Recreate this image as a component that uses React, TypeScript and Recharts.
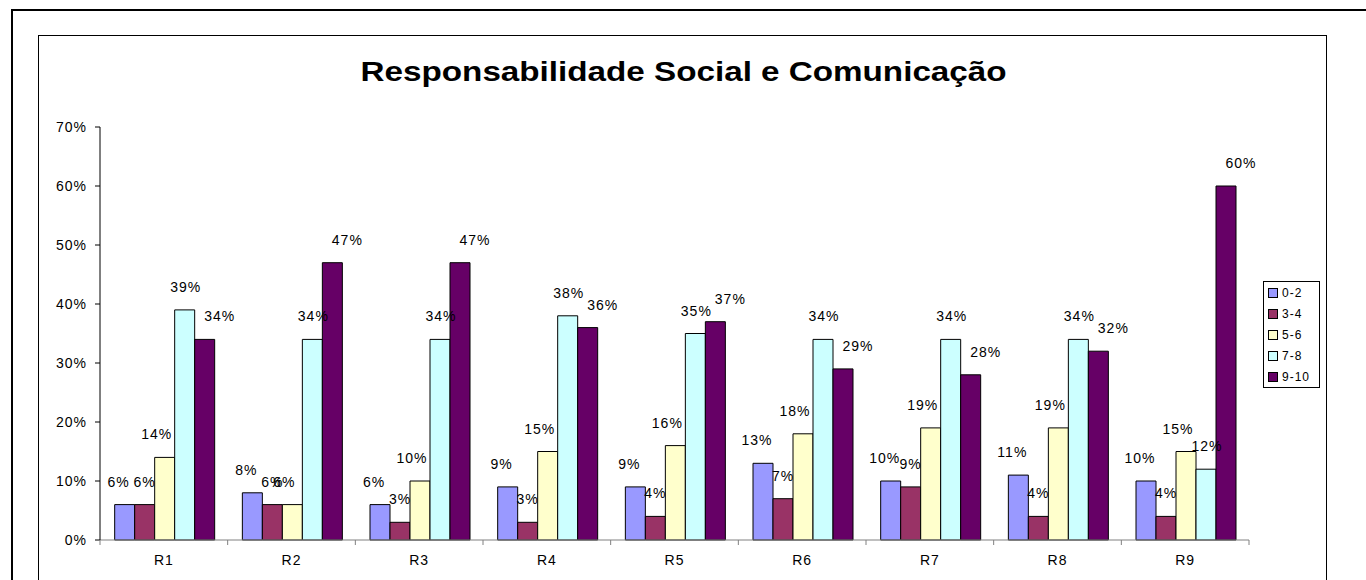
import { BarChart, Bar, XAxis, YAxis, LabelList } from "recharts"

const categories = ["R1", "R2", "R3", "R4", "R5", "R6", "R7", "R8", "R9"]
const seriesNames = ["0-2", "3-4", "5-6", "7-8", "9-10"]
const s02 = [6, 8, 6, 9, 9, 13, 10, 11, 10]
const s34 = [6, 6, 3, 3, 4, 7, 9, 4, 4]
const s56 = [14, 6, 10, 15, 16, 18, 19, 19, 15]
const s78 = [39, 34, 34, 38, 35, 34, 34, 34, 12]
const s910 = [34, 47, 47, 36, 37, 29, 28, 32, 60]
const yTicks = [0, 10, 20, 30, 40, 50, 60, 70]

const seriesValues = [s02, s34, s56, s78, s910]
const colors = ["#9999FF", "#993366", "#FFFFCC", "#CCFFFF", "#660066"]
// excel-ish scatter of the data labels, per series
const labelShift = [-6, 0, -8, 1, 15]

const chartData = categories.map((cat, i) => {
  const row: Record<string, string | number> = { category: cat }
  seriesNames.forEach((name, s) => {
    row[name] = seriesValues[s][i]
  })
  return row
})

const FONT = "'Liberation Sans', Arial, sans-serif"
const W = 1366
const H = 580
const PLOT_LEFT = 100
const PLOT_RIGHT = 1249
const bandWidth = (PLOT_RIGHT - PLOT_LEFT) / categories.length

function makeLabel(s: number) {
  return (props: any) => {
    const { x, y, width, value } = props
    return (
      <text
        x={x + width / 2 + labelShift[s]}
        y={y - 23}
        textAnchor="middle"
        dominantBaseline="central"
        fontSize={14}
        letterSpacing={1}
        fontFamily={FONT}
        fill="#000"
      >
        {value}%
      </text>
    )
  }
}

function CategoryTick(props: any) {
  const { x, y, payload, index } = props
  const left = x - bandWidth / 2
  return (
    <g>
      <line x1={left} y1={y} x2={left} y2={y + 5} stroke="#808080" />
      {index === categories.length - 1 && (
        <line x1={x + bandWidth / 2} y1={y} x2={x + bandWidth / 2} y2={y + 5} stroke="#808080" />
      )}
      <text
        x={x}
        y={y + 20}
        textAnchor="middle"
        dominantBaseline="central"
        fontSize={14}
        letterSpacing={1}
        fontFamily={FONT}
        fill="#000"
      >
        {payload.value}
      </text>
    </g>
  )
}

function LegendBox() {
  return (
    <div
      style={{
        position: "absolute",
        left: 1263,
        top: 281,
        border: "1px solid #000",
        background: "#fff",
        width: 57,
        padding: "0 0 0 4px",
        fontFamily: FONT,
        fontSize: 12,
        letterSpacing: 1,
        boxSizing: "border-box",
      }}
    >
      {seriesNames.map((name, i) => (
        <div key={name} style={{ display: "flex", alignItems: "center", height: 21 }}>
          <span
            style={{
              display: "inline-block",
              width: 8,
              height: 8,
              background: colors[i],
              border: "1px solid #000",
              marginRight: 4,
            }}
          />
          {name}
        </div>
      ))}
    </div>
  )
}

export default function App() {
  return (
    <div style={{ position: "absolute", left: 0, top: 0, width: W, height: H, overflow: "hidden", background: "#fff" }}>
      <div
        style={{
          position: "absolute",
          left: 11,
          top: 9,
          width: W,
          height: H,
          borderLeft: "2px solid #000",
          borderTop: "2px solid #000",
        }}
      />
      <div
        style={{
          position: "absolute",
          left: 38,
          top: 35,
          width: 1325 - 38,
          height: H,
          border: "1px solid #000",
          borderBottom: "none",
        }}
      />
      <div
        style={{
          position: "absolute",
          left: 0,
          width: 1366,
          top: 54,
          textAlign: "center",
          fontFamily: FONT,
          fontWeight: "bold",
          fontSize: 27,
          lineHeight: "36px",
          color: "#000",
        }}
      >
        <span style={{ display: "inline-block", transform: "scaleX(1.23)", marginLeft: 1 }}>
          Responsabilidade Social e Comunicação
        </span>
      </div>
      <div style={{ position: "absolute", left: 0, top: 0 }}>
        <BarChart
          width={W}
          height={H}
          data={chartData}
          margin={{ top: 127, right: W - PLOT_RIGHT, bottom: 10, left: PLOT_LEFT - 60 }}
          barCategoryGap="11.5%"
          barGap={0}
        >
          <XAxis
            dataKey="category"
            height={30}
            axisLine={{ stroke: "#808080" }}
            tickLine={false}
            tickSize={0}
            tickMargin={0}
            interval={0}
            tick={<CategoryTick />}
          />
          <YAxis
            width={60}
            domain={[0, 70]}
            ticks={yTicks}
            interval={0}
            tickFormatter={(v: number) => `${v}%`}
            axisLine={{ stroke: "#000" }}
            tickLine={{ stroke: "#000" }}
            tickSize={5}
            tickMargin={8}
            tick={{ fontSize: 14, fontFamily: FONT, fill: "#000", letterSpacing: 1 }}
          />
          {seriesNames.map((name, s) => (
            <Bar
              key={name}
              dataKey={name}
              fill={colors[s]}
              stroke="#000"
              strokeWidth={1}
              isAnimationActive={false}
            >
              <LabelList dataKey={name} content={makeLabel(s)} />
            </Bar>
          ))}
        </BarChart>
      </div>
      <LegendBox />
    </div>
  )
}
